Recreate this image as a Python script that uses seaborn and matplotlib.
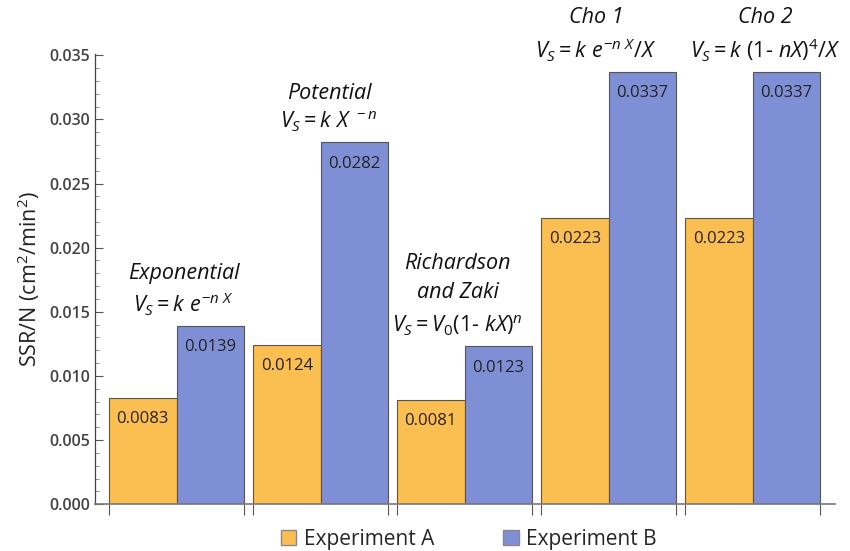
import matplotlib
matplotlib.use("Agg")
import matplotlib.pyplot as plt
import matplotlib.patches as mpatches
from matplotlib.ticker import MultipleLocator
import seaborn as sns
import pandas as pd

models = ["Exponential", "Potential", "Richardson and Zaki", "Cho 1", "Cho 2"]
exp_a = [0.0083, 0.0124, 0.0081, 0.0223, 0.0223]
exp_b = [0.0139, 0.0282, 0.0123, 0.0337, 0.0337]
series = ["Experiment A", "Experiment B"]
colors = ["#FBBE50", "#7F8FD6"]

# model name + formula shown above each group
titles = [
    "Exponential\n" + r"$\mathit{V_S = k\ e^{-n\ X}}$",
    "Potential\n" + r"$\mathit{V_S = k\ X^{\ -n}}$",
    "Richardson\nand Zaki\n" + r"$\mathit{V_S = V_0(1\text{-}\ kX)^n}$",
    "Cho 1\n" + r"$\mathit{V_S = k\ e^{-n\ X}/X}$",
    "Cho 2\n" + r"$\mathit{V_S = k\ (1\text{-}\ nX)^4/X}$",
]

df = pd.DataFrame({
    "model": models * 2,
    "experiment": [series[0]] * len(models) + [series[1]] * len(models),
    "value": exp_a + exp_b,
})

sns.set_theme(style="white")
plt.rcParams["font.family"] = ["Open Sans", "DejaVu Sans"]
plt.rcParams["mathtext.fontset"] = "custom"
plt.rcParams["mathtext.it"] = "Open Sans:italic"
plt.rcParams["mathtext.rm"] = "Open Sans"

fig = plt.figure(figsize=(8.5, 5.51), dpi=100)
ax = fig.add_axes([0.112, 0.085, 0.87, 0.817])

sns.barplot(data=df, x="model", y="value", hue="experiment", palette=colors,
            width=0.94, gap=0, edgecolor="#555555", linewidth=0.8,
            saturation=1, legend=False, ax=ax)

for cont in ax.containers:
    ax.bar_label(cont, fmt="%.4f", padding=-21, fontsize=12, color="#222222")

# titles above the taller bar of each group
x_shift = [5, 6, -5, -9, 9]
spacing = [1.3, 1.3, 1.55, 1.4, 1.4]
for i, t in enumerate(titles):
    top = max(exp_a[i], exp_b[i])
    ax.annotate(t, xy=(i, top), xytext=(x_shift[i], 6), textcoords="offset points",
                ha="center", va="bottom", fontsize=15.5, style="italic",
                linespacing=spacing[i], color="#111111", annotation_clip=False)

ax.set_ylim(0, 0.0351)
ax.set_xlim(-0.565, 4.57)
ax.yaxis.set_major_locator(MultipleLocator(0.005))
ax.yaxis.set_minor_locator(MultipleLocator(0.001))
ax.yaxis.set_major_formatter(matplotlib.ticker.FormatStrFormatter("%.3f"))
ax.tick_params(axis="y", which="major", direction="in", length=6, width=0.8,
               color="#555555", labelsize=11.5, labelcolor="#444444", left=True)
ax.tick_params(axis="y", which="minor", direction="in", length=3, width=0.6,
               color="#777777", left=True)
for lab in ax.get_yticklabels():
    lab.set_fontweight("semibold")

edges = []
for i in range(len(models)):
    edges += [i - 0.47, i + 0.47]
ax.set_xticks(edges)
ax.set_xticklabels([])
ax.tick_params(axis="x", direction="out", length=8, width=0.8, color="#555555", bottom=True)

for side in ["top", "right"]:
    ax.spines[side].set_visible(False)
ax.spines["left"].set_color("#444444")
ax.spines["bottom"].set_color("#777777")
ax.spines["left"].set_linewidth(0.9)
ax.spines["bottom"].set_linewidth(1.2)

ax.set_xlabel("")
ax.set_ylabel(r"SSR/N (cm$^2$/min$^2$)", fontsize=15.5, color="#222222", labelpad=5)

handles = [mpatches.Patch(facecolor=c, edgecolor="#888888", label=s) for c, s in zip(colors, series)]
ax.legend(handles=handles, loc="center", bbox_to_anchor=(0.505, -0.078),
          ncol=2, frameon=False, fontsize=15, handlelength=0.75, handleheight=0.75,
          handletextpad=0.35, columnspacing=3.3, borderpad=0)

fig.savefig("out.png", dpi=100)
